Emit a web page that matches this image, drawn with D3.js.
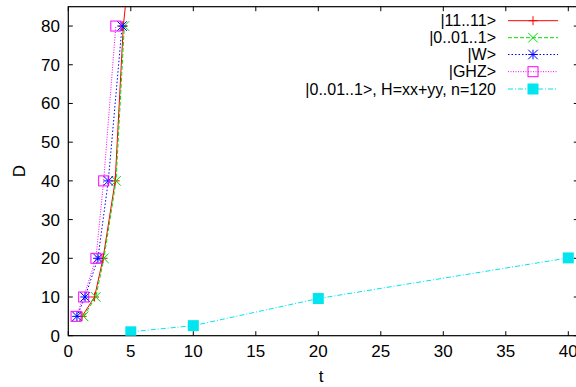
<!DOCTYPE html>
<html>
<head>
<meta charset="utf-8">
<script src="https://cdn.jsdelivr.net/npm/d3@7"></script>
<style>
  html, body { margin: 0; padding: 0; background: #fff; }
  svg { display: block; font-family: "Liberation Sans", Arial, Helvetica, sans-serif; }
</style>
</head>
<body>
<svg id="chart" width="576" height="387"></svg>
<script>
// Evolution time t versus distance D for several initial states
const seriesNames = ["|11..11>", "|0..01..1>", "|W>", "|GHZ>", "|0..01..1>, H=xx+yy, n=120"];
const ones  = [[1.1, 5], [2.1, 10], [2.78, 20], [3.75, 40], [4.4, 80], [7.0, 160]];
const step  = [[1.22, 5], [2.2, 10], [2.85, 20], [3.82, 40], [4.48, 80]];
const wState = [[0.69, 5], [1.34, 10], [2.37, 20], [3.2, 40], [4.3, 80]];
const ghz   = [[0.62, 5], [1.23, 10], [2.21, 20], [2.83, 40], [3.8, 80]];
const xxyy  = [[5, 1.0], [10, 2.6], [20, 9.6], [40, 20.1]];
const xTicks = [0, 5, 10, 15, 20, 25, 30, 35, 40];
const yTicks = [0, 10, 20, 30, 40, 50, 60, 70, 80];

const svg = d3.select("#chart");
const L = 68.3, T = 6.7, B = 335.7;
const FS = 17, LFS = 16;
const x = d3.scaleLinear().domain([0, 40.8]).range([L, L + 40.8 * 12.5]);
const y = d3.scaleLinear().domain([0, 85]).range([B, T]);
const R = x.range()[1];

const clipId = "plotclip";
svg.append("clipPath").attr("id", clipId)
  .append("rect").attr("x", L).attr("y", T).attr("width", R - L).attr("height", B - T);

// marker glyphs
function plus(g, cx, cy, c) {
  const s = 4.5;
  g.append("path").attr("d", `M${cx - s},${cy}H${cx + s}M${cx},${cy - s}V${cy + s}`)
    .attr("stroke", c).attr("stroke-width", 1).attr("fill", "none");
}
function cross(g, cx, cy, c) {
  const s = 4.8;
  g.append("path").attr("d", `M${cx - s},${cy - s}L${cx + s},${cy + s}M${cx - s},${cy + s}L${cx + s},${cy - s}`)
    .attr("stroke", c).attr("stroke-width", 1).attr("fill", "none");
}
function star(g, cx, cy, c) {
  const s = 4.8;
  g.append("path").attr("d",
    `M${cx - s},${cy}H${cx + s}M${cx},${cy - s}V${cy + s}M${cx - s},${cy - s}L${cx + s},${cy + s}M${cx - s},${cy + s}L${cx + s},${cy - s}`)
    .attr("stroke", c).attr("stroke-width", 1).attr("fill", "none");
}
function box(g, cx, cy, c) {
  const s = 5;
  g.append("rect").attr("x", cx - s).attr("y", cy - s).attr("width", 2 * s).attr("height", 2 * s)
    .attr("stroke", c).attr("stroke-width", 1).attr("fill", "none");
}
function fbox(g, cx, cy, c) {
  const s = 5.5;
  g.append("rect").attr("x", cx - s).attr("y", cy - s).attr("width", 2 * s).attr("height", 2 * s)
    .attr("fill", c);
}

const series = [
  { data: ones,   color: "#ff0000", dash: null,        mark: plus },
  { data: step,   color: "#00dd00", dash: "4,2",       mark: cross },
  { data: wState, color: "#0000ff", dash: "1.5,2",     mark: star },
  { data: ghz,    color: "#ff00ff", dash: "1,1.5",     mark: box },
  { data: xxyy,   color: "#00e5ee", dash: "5,2,1,2",   mark: fbox }
];

// axes frame with inward ticks on all four sides
const frame = svg.append("g");
frame.append("rect").attr("x", L).attr("y", T).attr("width", R - L).attr("height", B - T)
  .attr("fill", "none").attr("stroke", "#000").attr("stroke-width", 1.2);

const tl = 4.5;
xTicks.forEach(v => {
  frame.append("line").attr("x1", x(v)).attr("x2", x(v)).attr("y1", B).attr("y2", B - tl).attr("stroke", "#000");
  frame.append("line").attr("x1", x(v)).attr("x2", x(v)).attr("y1", T).attr("y2", T + tl).attr("stroke", "#000");
  frame.append("text").attr("x", x(v)).attr("y", 357).attr("text-anchor", "middle")
    .attr("font-size", FS).attr("fill", "#000").text(v);
});
yTicks.forEach(v => {
  frame.append("line").attr("x1", L).attr("x2", L + tl).attr("y1", y(v)).attr("y2", y(v)).attr("stroke", "#000");
  frame.append("line").attr("x1", R).attr("x2", R - tl).attr("y1", y(v)).attr("y2", y(v)).attr("stroke", "#000");
  frame.append("text").attr("x", 60).attr("y", y(v) + 6).attr("text-anchor", "end")
    .attr("font-size", FS).attr("fill", "#000").text(v);
});

frame.append("text").attr("x", 321).attr("y", 382).attr("text-anchor", "middle")
  .attr("font-size", FS).text("t");
frame.append("text").attr("transform", "translate(25,171) rotate(-90)").attr("text-anchor", "middle")
  .attr("font-size", FS).text("D");

// data lines and markers
const line = d3.line().x(d => x(d[0])).y(d => y(d[1]));
const plot = svg.append("g").attr("clip-path", `url(#${clipId})`);
series.forEach(s => {
  plot.append("path").datum(s.data).attr("d", line)
    .attr("fill", "none").attr("stroke", s.color).attr("stroke-width", 1)
    .attr("stroke-dasharray", s.dash);
});
series.forEach(s => {
  s.data.forEach(d => s.mark(plot, x(d[0]), y(d[1]), s.color));
});

// legend
const lg = svg.append("g");
const rowY = [20.7, 37.7, 54.5, 71.7, 89];
series.forEach((s, i) => {
  const yy = rowY[i];
  lg.append("text").attr("x", 496).attr("y", yy + 5.6).attr("text-anchor", "end")
    .attr("font-size", LFS).attr("fill", "#000").text(seriesNames[i]);
  lg.append("line").attr("x1", 508).attr("x2", 558).attr("y1", yy).attr("y2", yy)
    .attr("stroke", s.color).attr("stroke-width", 1).attr("stroke-dasharray", s.dash);
  s.mark(lg, 533, yy, s.color);
});
</script>
</body>
</html>
